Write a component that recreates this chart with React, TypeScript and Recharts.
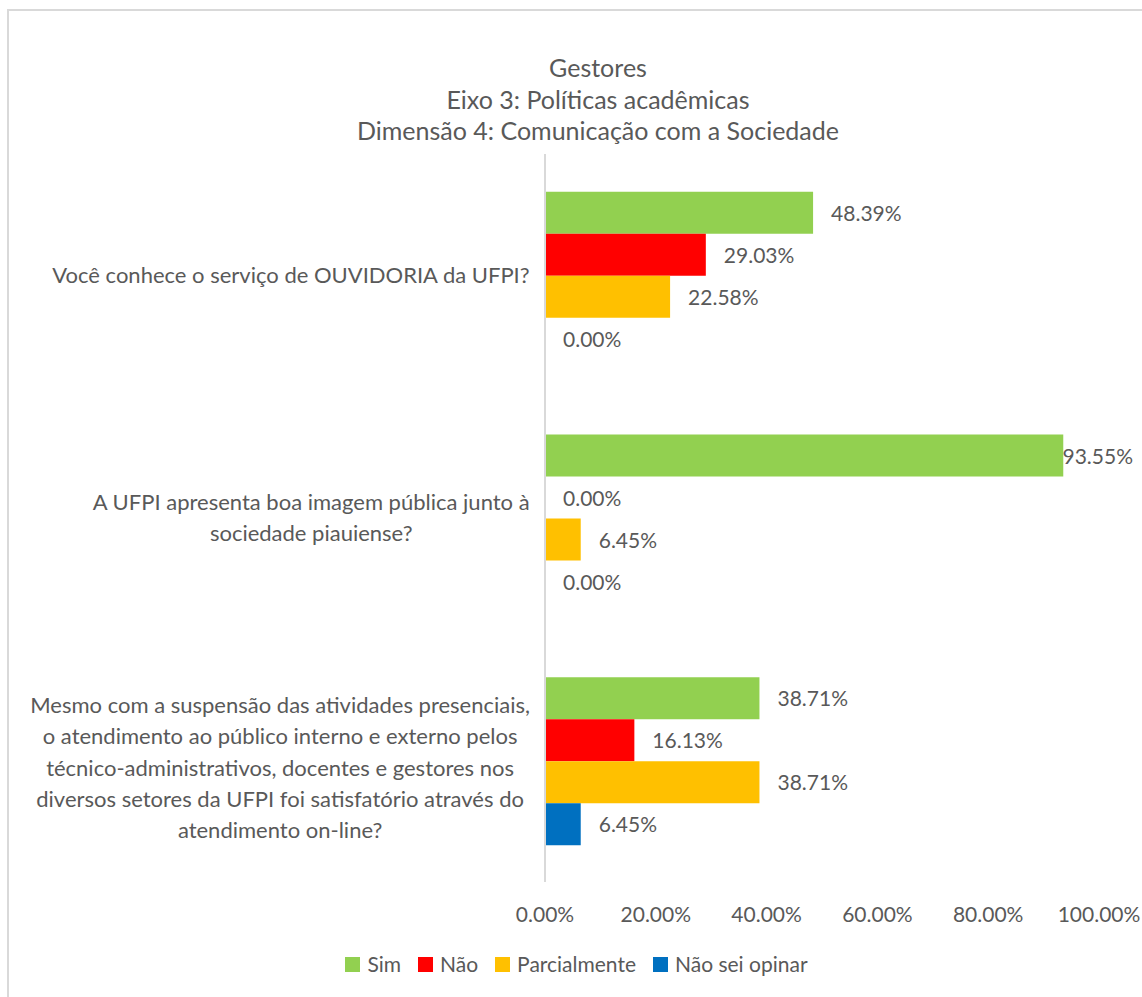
import React from 'react';
import { BarChart, Bar, XAxis, YAxis, LabelList, Legend } from 'recharts';

const categories = [
  'Você conhece o serviço de OUVIDORIA da UFPI?',
  'A UFPI apresenta boa imagem pública junto à\nsociedade piauiense?',
  'Mesmo com a suspensão das atividades presenciais,\no atendimento ao público interno e externo pelos\ntécnico-administrativos, docentes e gestores nos\ndiversos setores da UFPI foi satisfatório através do\natendimento on-line?',
];
const sim = [0.4839, 0.9355, 0.3871];
const nao = [0.2903, 0, 0.1613];
const parcial = [0.2258, 0.0645, 0.3871];
const naoSei = [0, 0, 0.0645];
const xTicks = [0, 0.2, 0.4, 0.6, 0.8, 1];
const seriesKeys = ['sim', 'nao', 'parcial', 'naoSei'];
const seriesNames = ['Sim', 'Não', 'Parcialmente', 'Não sei opinar'];
const seriesColors = ['#92D050', '#FF0000', '#FFC000', '#0070C0'];
const titleLines = ['Gestores', 'Eixo 3: Políticas acadêmicas', 'Dimensão 4: Comunicação com a Sociedade'];

const data = categories.map((name, i) => ({
  name,
  sim: sim[i],
  nao: nao[i],
  parcial: parcial[i],
  naoSei: naoSei[i],
}));

const FONT = 'Lato';
const FS = 21;
const CAT_FS = 22;
const TITLE_FS = 25;
const TEXT = '#595959';

let ctx: CanvasRenderingContext2D | null = null;
function measure(t: string, size = FS): number {
  if (!ctx) ctx = document.createElement('canvas').getContext('2d');
  if (!ctx) return t.length * size * 0.5;
  ctx.font = `${size}px ${FONT}`;
  return ctx.measureText(t).width;
}

const pct = (v: number) => (v * 100).toFixed(2) + '%';

const YTick = (props: any) => {
  const { y, payload } = props;
  const lines = String(payload.value).split('\n');
  const w = Math.max(...lines.map((l) => measure(l, CAT_FS)));
  const right = 530;
  const cx = right - w / 2;
  const lh = 31.3;
  const n = lines.length;
  const shift = n > 2 ? (n - 2) * 2.5 : 0;
  return (
    <g>
      {lines.map((l, i) => (
        <text
          key={i}
          x={cx}
          y={y + (i - (n - 1) / 2) * lh + 7.5 + shift}
          textAnchor="middle"
          fill={TEXT}
          fontSize={CAT_FS}
          fontFamily={FONT}
        >
          {l}
        </text>
      ))}
    </g>
  );
};

const XTick = (props: any) => {
  const { x, y, payload } = props;
  return (
    <text x={x} y={y + 40} textAnchor="middle" fill={TEXT} fontSize={FS} fontFamily={FONT}>
      {pct(payload.value)}
    </text>
  );
};

const BarLabel = (props: any) => {
  const { x, y, width, height, value } = props;
  const t = pct(Number(value));
  const w = measure(t);
  const maxRight = 1133;
  let lx = x + width + 18;
  if (lx + w > maxRight) lx = maxRight - w;
  return (
    <text x={lx} y={y + height / 2 + 8} fill={TEXT} fontSize={FS} fontFamily={FONT}>
      {t}
    </text>
  );
};

const LegendContent = () => (
  <div
    style={{
      display: 'flex',
      justifyContent: 'center',
      alignItems: 'center',
      fontFamily: FONT,
      fontSize: FS,
      color: TEXT,
      lineHeight: '24px',
    }}
  >
    {seriesNames.map((n, i) => (
      <div key={n} style={{ display: 'flex', alignItems: 'center', marginRight: i < seriesNames.length - 1 ? 17 : 0 }}>
        <span style={{ display: 'inline-block', width: 15, height: 15, background: seriesColors[i], marginRight: 7 }} />
        <span>{n}</span>
      </div>
    ))}
  </div>
);

export default function App() {
  return (
    <div style={{ position: 'fixed', left: 0, top: 0, width: 1142, height: 997, overflow: 'hidden', background: '#fff' }}>
      <div
        style={{
          position: 'absolute',
          left: 7,
          top: 9,
          width: 1400,
          height: 1300,
          border: '2px solid #d9d9d9',
          boxSizing: 'border-box',
        }}
      />
      <div
        style={{
          position: 'absolute',
          left: 0,
          top: 52,
          width: 1196,
          textAlign: 'center',
          fontFamily: FONT,
          fontSize: TITLE_FS,
          lineHeight: '31.5px',
          color: TEXT,
        }}
      >
        {titleLines.map((l) => (
          <div key={l}>{l}</div>
        ))}
      </div>
      <div style={{ position: 'absolute', left: 0, top: 0 }}>
        <BarChart
          width={1142}
          height={997}
          data={data}
          layout="vertical"
          margin={{ top: 154, right: 43, bottom: 85, left: 0 }}
          barCategoryGap="15.6%"
          barGap={0}
        >
          <XAxis
            type="number"
            domain={[0, 1]}
            ticks={xTicks}
            axisLine={false}
            tickLine={false}
            tickSize={0}
            tickMargin={0}
            height={30}
            tick={<XTick />}
            interval={0}
          />
          <YAxis
            type="category"
            dataKey="name"
            width={545}
            axisLine={{ stroke: '#d9d9d9', strokeWidth: 2 }}
            tickLine={false}
            tick={<YTick />}
            interval={0}
          />
          <Legend
            layout="horizontal"
            verticalAlign="middle"
            align="center"
            content={<LegendContent />}
            wrapperStyle={{ top: 952, left: 0, width: 1153, height: 24 }}
          />
          {seriesKeys.map((k, i) => (
            <Bar
              key={k}
              dataKey={k}
              name={seriesNames[i]}
              fill={seriesColors[i]}
              minPointSize={0.01}
              isAnimationActive={false}
            >
              <LabelList dataKey={k} content={<BarLabel />} />
            </Bar>
          ))}
        </BarChart>
      </div>
    </div>
  );
}
